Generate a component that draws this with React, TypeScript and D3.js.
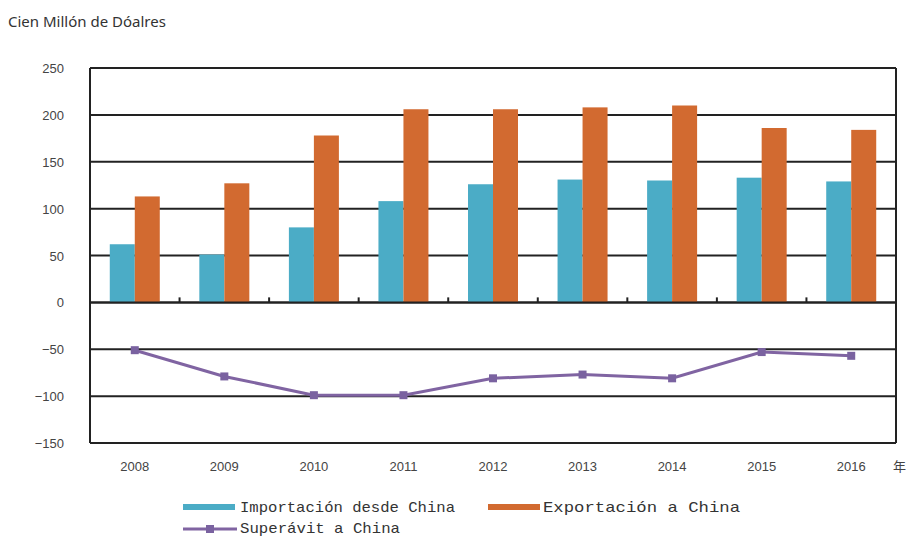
import { useEffect, useRef } from 'react';
import * as d3 from 'd3';

const years = ['2008', '2009', '2010', '2011', '2012', '2013', '2014', '2015', '2016'];
const imports = [62, 51, 80, 108, 126, 131, 130, 133, 129];
const exports = [113, 127, 178, 206, 206, 208, 210, 186, 184];
const surplus = [-51, -79, -99, -99, -81, -77, -81, -53, -57];
const yTicks = [250, 200, 150, 100, 50, 0, -50, -100, -150];

const W = 906;
const H = 538;

export default function App() {
  const svgRef = useRef<SVGSVGElement>(null);

  useEffect(() => {
    document.body.style.margin = '0';
    if (!svgRef.current) return;
    const svg = d3.select(svgRef.current);
    svg.selectAll('*').remove();

    const margin = { top: 68, right: 10, bottom: 95, left: 90 };
    const x0 = margin.left;
    const x1 = W - margin.right;
    const y = d3.scaleLinear().domain([-150, 250]).range([H - margin.bottom, margin.top]);
    const x = d3.scaleBand().domain(years).range([x0, x1]);
    const barW = 25;

    svg.append('rect').attr('width', W).attr('height', H).attr('fill', '#fff');

    // title
    svg.append('text')
      .attr('x', 8)
      .attr('y', 27)
      .attr('font-family', '"Noto Sans", sans-serif')
      .attr('font-size', 15)
      .attr('fill', '#333')
      .text('Cien Millón de Dóalres');

    // grid
    svg.append('g')
      .selectAll('line')
      .data(yTicks)
      .join('line')
      .attr('x1', x0)
      .attr('x2', x1)
      .attr('y1', d => y(d))
      .attr('y2', d => y(d))
      .attr('stroke', '#222')
      .attr('stroke-width', 2);

    // left / right border
    [x0, x1].forEach(px => {
      svg.append('line')
        .attr('x1', px).attr('x2', px)
        .attr('y1', y(250)).attr('y2', y(-150))
        .attr('stroke', '#222')
        .attr('stroke-width', 2);
    });

    // category ticks on zero line
    svg.append('g')
      .selectAll('line')
      .data(years.slice(1))
      .join('line')
      .attr('x1', d => x(d)!)
      .attr('x2', d => x(d)!)
      .attr('y1', y(0))
      .attr('y2', y(0) - 5)
      .attr('stroke', '#222')
      .attr('stroke-width', 2);

    // y labels
    svg.append('g')
      .selectAll('text')
      .data(yTicks)
      .join('text')
      .attr('x', 64)
      .attr('y', d => y(d) + 5)
      .attr('text-anchor', 'end')
      .attr('font-family', '"Liberation Sans", Arial, sans-serif')
      .attr('font-size', 13)
      .attr('fill', '#444')
      .text(d => String(d).replace('-', '\u2212'));

    // x labels
    svg.append('g')
      .selectAll('text')
      .data(years)
      .join('text')
      .attr('x', d => x(d)! + x.bandwidth() / 2)
      .attr('y', 471)
      .attr('text-anchor', 'middle')
      .attr('font-family', '"Liberation Sans", Arial, sans-serif')
      .attr('font-size', 13)
      .attr('fill', '#444')
      .text(d => d);

    svg.append('text')
      .attr('x', 893)
      .attr('y', 471)
      .attr('font-family', '"Noto Sans CJK SC", sans-serif')
      .attr('font-size', 13)
      .attr('fill', '#444')
      .text('年');

    // bars
    svg.append('g')
      .selectAll('rect')
      .data(imports)
      .join('rect')
      .attr('x', (_, i) => x(years[i])! + x.bandwidth() / 2 - barW)
      .attr('y', d => y(d))
      .attr('width', barW)
      .attr('height', d => y(0) - y(d))
      .attr('fill', '#4BACC6');

    svg.append('g')
      .selectAll('rect')
      .data(exports)
      .join('rect')
      .attr('x', (_, i) => x(years[i])! + x.bandwidth() / 2)
      .attr('y', d => y(d))
      .attr('width', barW)
      .attr('height', d => y(0) - y(d))
      .attr('fill', '#D26A30');

    // zero line over bars
    svg.append('line')
      .attr('x1', x0).attr('x2', x1)
      .attr('y1', y(0)).attr('y2', y(0))
      .attr('stroke', '#222')
      .attr('stroke-width', 2);

    // surplus line
    const line = d3.line<number>()
      .x((_, i) => x(years[i])! + x.bandwidth() / 2)
      .y(d => y(d));

    svg.append('path')
      .datum(surplus)
      .attr('d', line)
      .attr('fill', 'none')
      .attr('stroke', '#8064A2')
      .attr('stroke-width', 3);

    svg.append('g')
      .selectAll('rect')
      .data(surplus)
      .join('rect')
      .attr('x', (_, i) => x(years[i])! + x.bandwidth() / 2 - 4)
      .attr('y', d => y(d) - 4)
      .attr('width', 8)
      .attr('height', 8)
      .attr('fill', '#7A62A0');

    // legend
    const lg = svg.append('g')
      .attr('font-family', '"Liberation Mono", monospace')
      .attr('font-size', 15)
      .attr('fill', '#333');

    lg.append('rect').attr('x', 183).attr('y', 504).attr('width', 52).attr('height', 6).attr('fill', '#4BACC6');
    lg.append('text').attr('x', 240).attr('y', 512)
      .attr('textLength', 215).attr('lengthAdjust', 'spacingAndGlyphs')
      .text('Importación desde China');

    lg.append('rect').attr('x', 488).attr('y', 504).attr('width', 52).attr('height', 6).attr('fill', '#D26A30');
    lg.append('text').attr('x', 543).attr('y', 512)
      .attr('textLength', 197).attr('lengthAdjust', 'spacingAndGlyphs')
      .text('Exportación a China');

    lg.append('line').attr('x1', 183).attr('x2', 237).attr('y1', 529).attr('y2', 529)
      .attr('stroke', '#8064A2').attr('stroke-width', 3);
    lg.append('rect').attr('x', 206).attr('y', 525).attr('width', 8).attr('height', 8).attr('fill', '#7A62A0');
    lg.append('text').attr('x', 240).attr('y', 533)
      .attr('textLength', 160).attr('lengthAdjust', 'spacingAndGlyphs')
      .text('Superávit a China');
  }, []);

  return <svg ref={svgRef} width={W} height={H} style={{ display: 'block' }} />;
}
